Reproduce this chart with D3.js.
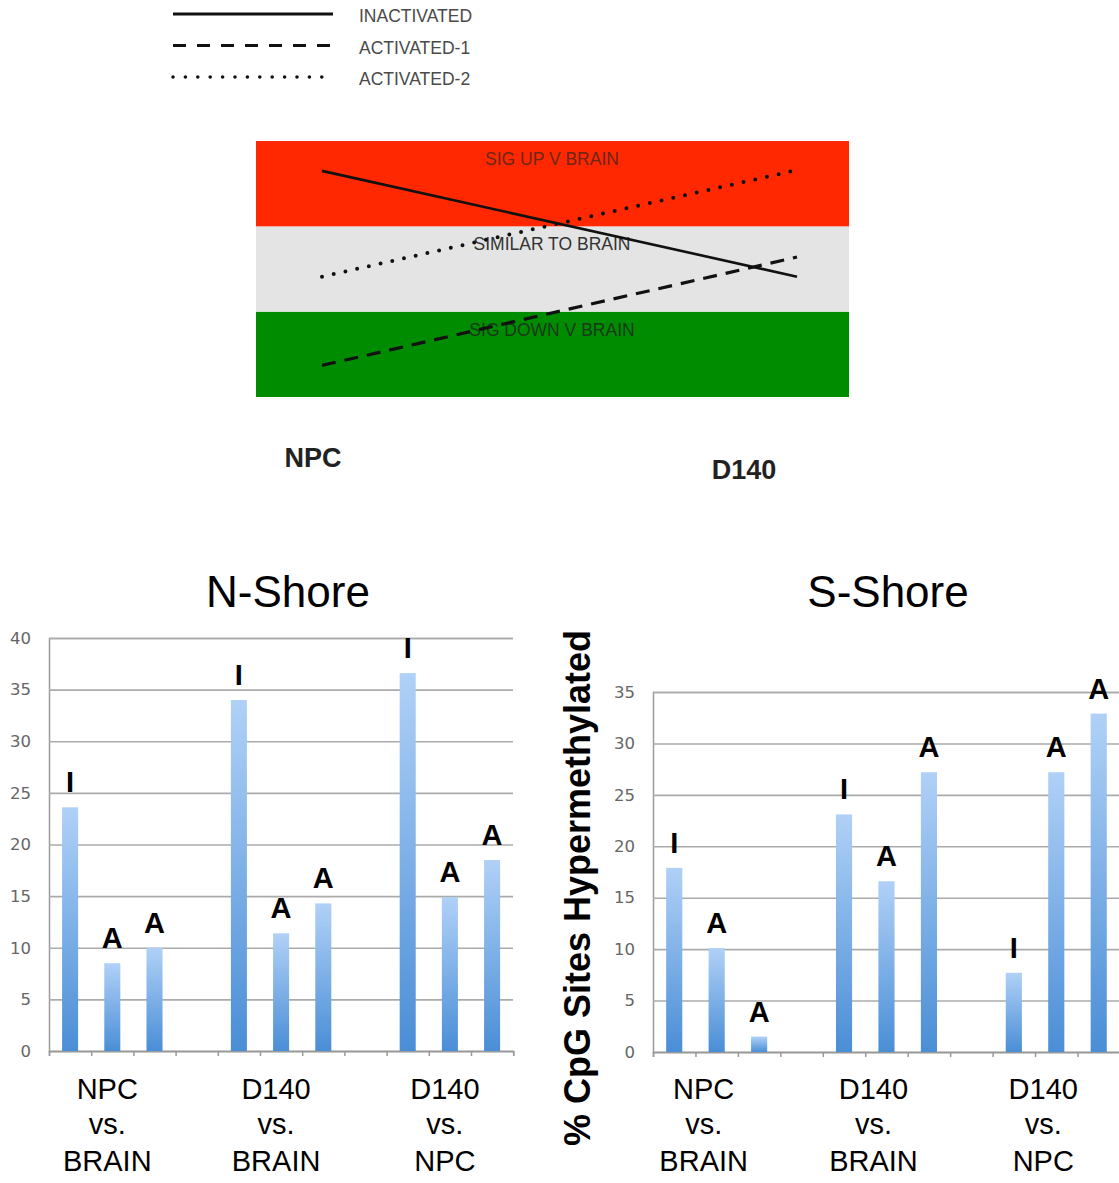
<!DOCTYPE html>
<html>
<head>
<meta charset="utf-8">
<script src="https://cdn.jsdelivr.net/npm/d3@7"></script>
<style>
  body { margin: 0; background: #fff; }
  svg { display: block; font-family: "Liberation Sans", Arial, sans-serif; }
</style>
</head>
<body>
<svg id="chart"></svg>
<script>
// schematic: methylation pattern from NPC to D140
var stages = ["NPC", "D140"];
var zones = ["SIG DOWN V BRAIN", "SIMILAR TO BRAIN", "SIG UP V BRAIN"];
var patternNames = ["INACTIVATED", "ACTIVATED-1", "ACTIVATED-2"];
var patternStart = [2.65, 0.37, 1.41];
var patternEnd = [1.41, 1.64, 2.66];

// bar charts
var comparisons = [["NPC", "vs.", "BRAIN"], ["D140", "vs.", "BRAIN"], ["D140", "vs.", "NPC"]];
var nShoreValues = [23.6, 8.5, 10.0, 34.0, 11.4, 14.3, 36.6, 14.9, 18.5];
var nShoreMarks = ["I", "A", "A", "I", "A", "A", "I", "A", "A"];
var sShoreValues = [17.9, 10.1, 1.5, 23.1, 16.6, 27.2, 7.7, 27.2, 32.9];
var sShoreMarks = ["I", "A", "A", "I", "A", "A", "I", "A", "A"];
var nShoreTicks = [0, 5, 10, 15, 20, 25, 30, 35, 40];
var sShoreTicks = [0, 5, 10, 15, 20, 25, 30, 35];

var svgWidth = 1119, svgHeight = 1183;
var svg = d3.select("#chart")
    .attr("width", svgWidth)
    .attr("height", svgHeight);

var defs = svg.append("defs");
var grad = defs.append("linearGradient")
    .attr("id", "barGrad")
    .attr("x1", 0).attr("y1", 0).attr("x2", 0).attr("y2", 1);
grad.append("stop").attr("offset", "0%").attr("stop-color", "#b0d1f7");
grad.append("stop").attr("offset", "100%").attr("stop-color", "#4a8ed6");

// ---- legend ----
var dashes = [null, "13 11", "0 12.4"];
var legend = svg.append("g");
var legendY = d3.scalePoint().domain(patternNames).range([14, 77]);
patternNames.forEach(function (name, i) {
    legend.append("line")
        .attr("x1", 173).attr("x2", 333)
        .attr("y1", legendY(name)).attr("y2", legendY(name))
        .attr("stroke", "#111")
        .attr("stroke-width", i == 2 ? 3.6 : 3)
        .attr("stroke-linecap", i == 2 ? "round" : "butt")
        .attr("stroke-dasharray", dashes[i]);
    legend.append("text")
        .attr("x", 359).attr("y", legendY(name) + 8)
        .attr("font-size", 17.5)
        .attr("fill", "#4a4a4a")
        .text(name);
});

// ---- schematic ----
var zoneColors = ["#008c00", "#e4e4e4", "#ff2800"];
var zoneText = ["#1a3a1a", "#333", "#6e2616"];
var zy = d3.scaleLinear().domain([0, 3]).range([397, 141]);
var sx = d3.scalePoint().domain(stages).range([322, 797]);
var schem = svg.append("g");

schem.selectAll("rect")
    .data(zones)
    .enter()
    .append("rect")
    .attr("x", 256)
    .attr("width", 593)
    .attr("y", function (d, i) { return zy(i + 1); })
    .attr("height", function (d, i) { return zy(i) - zy(i + 1); })
    .attr("fill", function (d, i) { return zoneColors[i]; });

schem.selectAll("text.zone")
    .data(zones)
    .enter()
    .append("text")
    .attr("class", "zone")
    .attr("x", 552)
    .attr("y", function (d, i) { return zy(i + 1) + 24; })
    .attr("text-anchor", "middle")
    .attr("font-size", 17.5)
    .attr("fill", function (d, i) { return zoneText[i]; })
    .text(function (d) { return d; });

var diagramDash = [null, "14 9", "0 12"];
patternNames.forEach(function (name, i) {
    schem.append("line")
        .attr("x1", sx(stages[0])).attr("y1", zy(patternStart[i]))
        .attr("x2", sx(stages[1])).attr("y2", zy(patternEnd[i]))
        .attr("stroke", "#111")
        .attr("stroke-width", i == 0 ? 2.6 : (i == 2 ? 4 : 3.2))
        .attr("stroke-linecap", i == 2 ? "round" : "butt")
        .attr("stroke-dasharray", diagramDash[i]);
});

var stageDx = [-9, -53], stageY = [467, 479];
stages.forEach(function (s, i) {
    schem.append("text")
        .attr("x", sx(s) + stageDx[i])
        .attr("y", stageY[i])
        .attr("text-anchor", "middle")
        .attr("font-size", 27)
        .attr("font-weight", "bold")
        .attr("fill", "#222")
        .text(s);
});

// ---- bar charts ----
function drawShore(opt) {
    var g = svg.append("g");
    var nSlots = 11;
    var step = opt.step;
    var x0 = opt.x0, x1 = opt.x0 + nSlots * step;

    var slots = opt.values.map(function (v, i) { return Math.floor(i / 3) * 4 + (i % 3); });
    var x = d3.scaleBand()
        .domain(d3.range(nSlots))
        .range([x0, x1])
        .paddingInner(0.62)
        .paddingOuter(0.31);
    var y = d3.scaleLinear()
        .domain([0, d3.max(opt.ticks)])
        .range([opt.yBottom, opt.yTop]);

    // gridlines + tick labels
    var yAxis = g.append("g")
        .attr("transform", "translate(" + x0 + ",0)")
        .call(d3.axisLeft(y).tickValues(opt.ticks).tickSize(-(opt.gridRight - x0)).tickPadding(18));
    yAxis.select(".domain").attr("stroke", "#9a9a9a").attr("stroke-width", 1.5);
    yAxis.selectAll(".tick line").attr("stroke", "#ababab").attr("stroke-width", 1.6);
    yAxis.selectAll(".tick text")
        .attr("fill", "#666")
        .attr("font-family", "'DejaVu Sans', sans-serif")
        .style("font-size", "16.5px");

    // x axis with tick marks between slots
    var xEdge = d3.scaleLinear().domain([0, nSlots]).range([x0, x1]);
    var xAxis = g.append("g")
        .attr("transform", "translate(0," + opt.yBottom + ")")
        .call(d3.axisBottom(xEdge).tickValues(d3.range(nSlots + 1)).tickSize(5).tickFormat(""));
    xAxis.select(".domain").attr("stroke", "#9a9a9a").attr("stroke-width", 1.5);
    xAxis.selectAll(".tick line").attr("stroke", "#9a9a9a").attr("stroke-width", 1.5);

    g.selectAll("rect.bar")
        .data(opt.values)
        .enter()
        .append("rect")
        .attr("class", "bar")
        .attr("x", function (d, i) { return x(slots[i]); })
        .attr("width", x.bandwidth())
        .attr("y", function (d) { return y(d); })
        .attr("height", function (d) { return opt.yBottom - y(d); })
        .attr("fill", "url(#barGrad)");

    g.selectAll("text.mark")
        .data(opt.values)
        .enter()
        .append("text")
        .attr("class", "mark")
        .attr("x", function (d, i) { return x(slots[i]) + x.bandwidth() / 2; })
        .attr("y", function (d) { return y(d) - 15; })
        .attr("text-anchor", "middle")
        .attr("font-size", 29)
        .attr("font-weight", "bold")
        .attr("fill", "#000")
        .text(function (d, i) { return opt.marks[i]; });

    g.append("text")
        .attr("x", opt.titleX)
        .attr("y", 607)
        .attr("text-anchor", "middle")
        .attr("font-size", 44)
        .text(opt.title);

    comparisons.forEach(function (lines, gi) {
        var cx = x(gi * 4 + 1) + x.bandwidth() / 2 + opt.labelDx;
        var t = g.append("text")
            .attr("text-anchor", "middle")
            .attr("font-size", 29);
        var ys = [1099, 1134, 1171];
        lines.forEach(function (s, li) {
            t.append("tspan").attr("x", cx).attr("y", ys[li]).text(s);
        });
    });
}

drawShore({
    values: nShoreValues, marks: nShoreMarks, ticks: nShoreTicks,
    x0: 49, step: 42.2, gridRight: 513,
    yBottom: 1051, yTop: 638,
    title: "N-Shore", titleX: 288, labelDx: -5
});

drawShore({
    values: sShoreValues, marks: sShoreMarks, ticks: sShoreTicks,
    x0: 653, step: 42.45, gridRight: 1125,
    yBottom: 1052, yTop: 692,
    title: "S-Shore", titleX: 888, labelDx: -13
});

svg.append("text")
    .attr("transform", "translate(590,888) rotate(-90)")
    .attr("text-anchor", "middle")
    .attr("font-size", 36)
    .attr("font-weight", "bold")
    .text("% CpG Sites Hypermethylated");
</script>
</body>
</html>
